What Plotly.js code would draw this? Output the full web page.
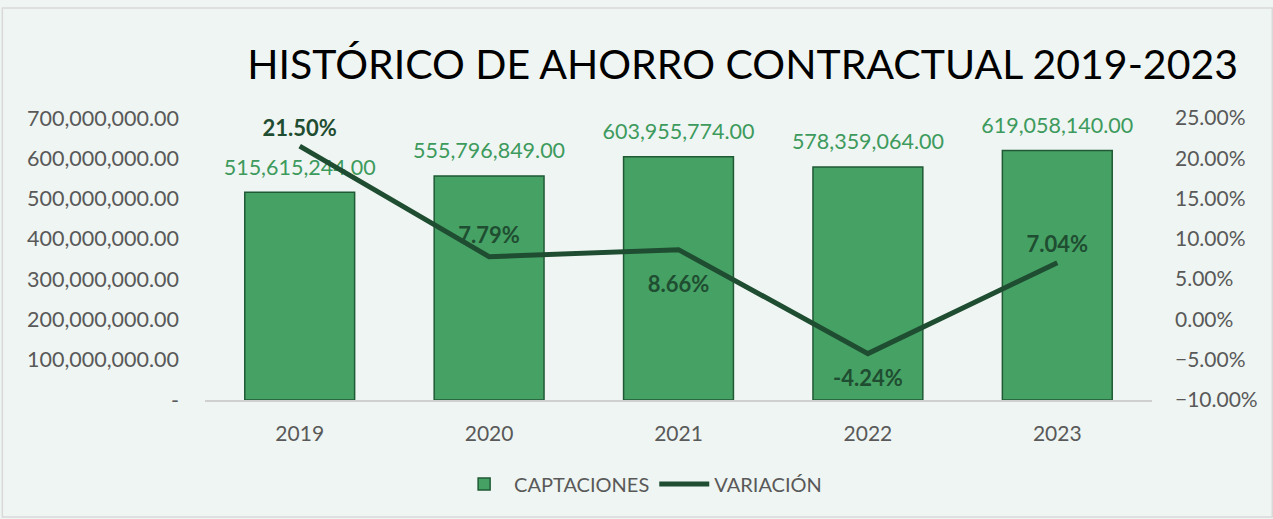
<!DOCTYPE html>
<html>
<head>
<meta charset="utf-8">
<script src="https://cdn.plot.ly/plotly-3.0.1.min.js"></script>
<style>
  html, body { margin: 0; padding: 0; background: #eff5f2; }
  #chart { width: 1273px; height: 519px; }
</style>
</head>
<body>
<div id="chart"></div>
<script>
// datos del grafico
var years = ["2019", "2020", "2021", "2022", "2023"];
var captaciones = [515615244, 555796849, 603955774, 578359064, 619058140];
var variacion = [0.2150, 0.0779, 0.0866, -0.0424, 0.0704];
var varLabelPos = ["top center", "top center", "bottom center", "bottom center", "top center"];
var varLabelGap = [6, 12, 40, 24, 6];

// eje izquierdo
var leftTickVals = [0, 100000000, 200000000, 300000000, 400000000, 500000000, 600000000, 700000000];
var leftTickText = ["-", "100,000,000.00", "200,000,000.00", "300,000,000.00", "400,000,000.00",
  "500,000,000.00", "600,000,000.00", "700,000,000.00"];

function fmtMoney(v) {
  return v.toLocaleString("en-US", {minimumFractionDigits: 2, maximumFractionDigits: 2});
}

var font = "Lato, 'Open Sans', sans-serif";

var bars = {
  x: years,
  y: captaciones,
  name: "CAPTACIONES",
  type: "bar",
  width: 0.58,
  marker: {color: "#46a164", line: {color: "#1f5a35", width: 1.5}}
};

// etiquetas de las barras (marcador invisible para dar separacion)
var barLabels = {
  x: years,
  y: captaciones,
  type: "scatter",
  mode: "markers+text",
  showlegend: false,
  marker: {size: 18, color: "rgba(0,0,0,0)", line: {width: 0}},
  text: captaciones.map(fmtMoney),
  textposition: "top center",
  cliponaxis: false,
  textfont: {family: font, size: 21.5, color: "#3d9a5d"}
};

var line = {
  x: years,
  y: variacion,
  name: "VARIACIÓN",
  type: "scatter",
  mode: "lines+markers+text",
  yaxis: "y2",
  line: {color: "#1f4d31", width: 5},
  marker: {size: varLabelGap, color: "rgba(0,0,0,0)", line: {width: 0}},
  text: variacion.map(function (v) { return (v * 100).toFixed(2) + "%"; }),
  textposition: varLabelPos,
  cliponaxis: false,
  textfont: {family: font, size: 22, color: "#1f4d31", weight: "bold"}
};

var layout = {
  width: 1273,
  height: 519,
  paper_bgcolor: "#eff5f2",
  plot_bgcolor: "#eff5f2",
  font: {family: font, color: "#595959"},
  margin: {l: 205, r: 121, t: 118, b: 119, autoexpand: false},
  title: {
    text: "HISTÓRICO DE AHORRO CONTRACTUAL 2019-2023",
    font: {family: font, size: 41, color: "#000000"},
    x: 0.9725, xanchor: "right", xref: "container",
    y: 0.875, yanchor: "middle"
  },
  xaxis: {
    showgrid: false,
    showline: true,
    linecolor: "#d0d0d0",
    linewidth: 1.5,
    ticks: "",
    tickfont: {size: 21, color: "#595959"},
    ticklabelstandoff: 14,
    fixedrange: true
  },
  yaxis: {
    range: [0, 700000000],
    tickvals: leftTickVals,
    ticktext: leftTickText,
    showgrid: false,
    zeroline: false,
    tickfont: {size: 21.5, color: "#595959"},
    ticklabelstandoff: 25
  },
  yaxis2: {
    overlaying: "y",
    side: "right",
    range: [-0.10, 0.25],
    dtick: 0.05,
    tickformat: ".2%",
    showgrid: false,
    zeroline: false,
    tickfont: {size: 21, color: "#595959"},
    ticklabelstandoff: 22
  },
  showlegend: true,
  legend: {
    orientation: "h",
    x: 0.46, xanchor: "center",
    y: -0.298, yanchor: "middle",
    font: {size: 20, color: "#595959"},
    itemwidth: 50
  },
  shapes: [{
    type: "rect", xref: "paper", yref: "paper",
    x0: -0.214, x1: 1.127, y0: -0.415, y1: 1.39,
    line: {color: "#d9d9d9", width: 1.5}
  }]
};

Plotly.newPlot("chart", [bars, line, barLabels], layout, {displayModeBar: false, staticPlot: true});
</script>
</body>
</html>
